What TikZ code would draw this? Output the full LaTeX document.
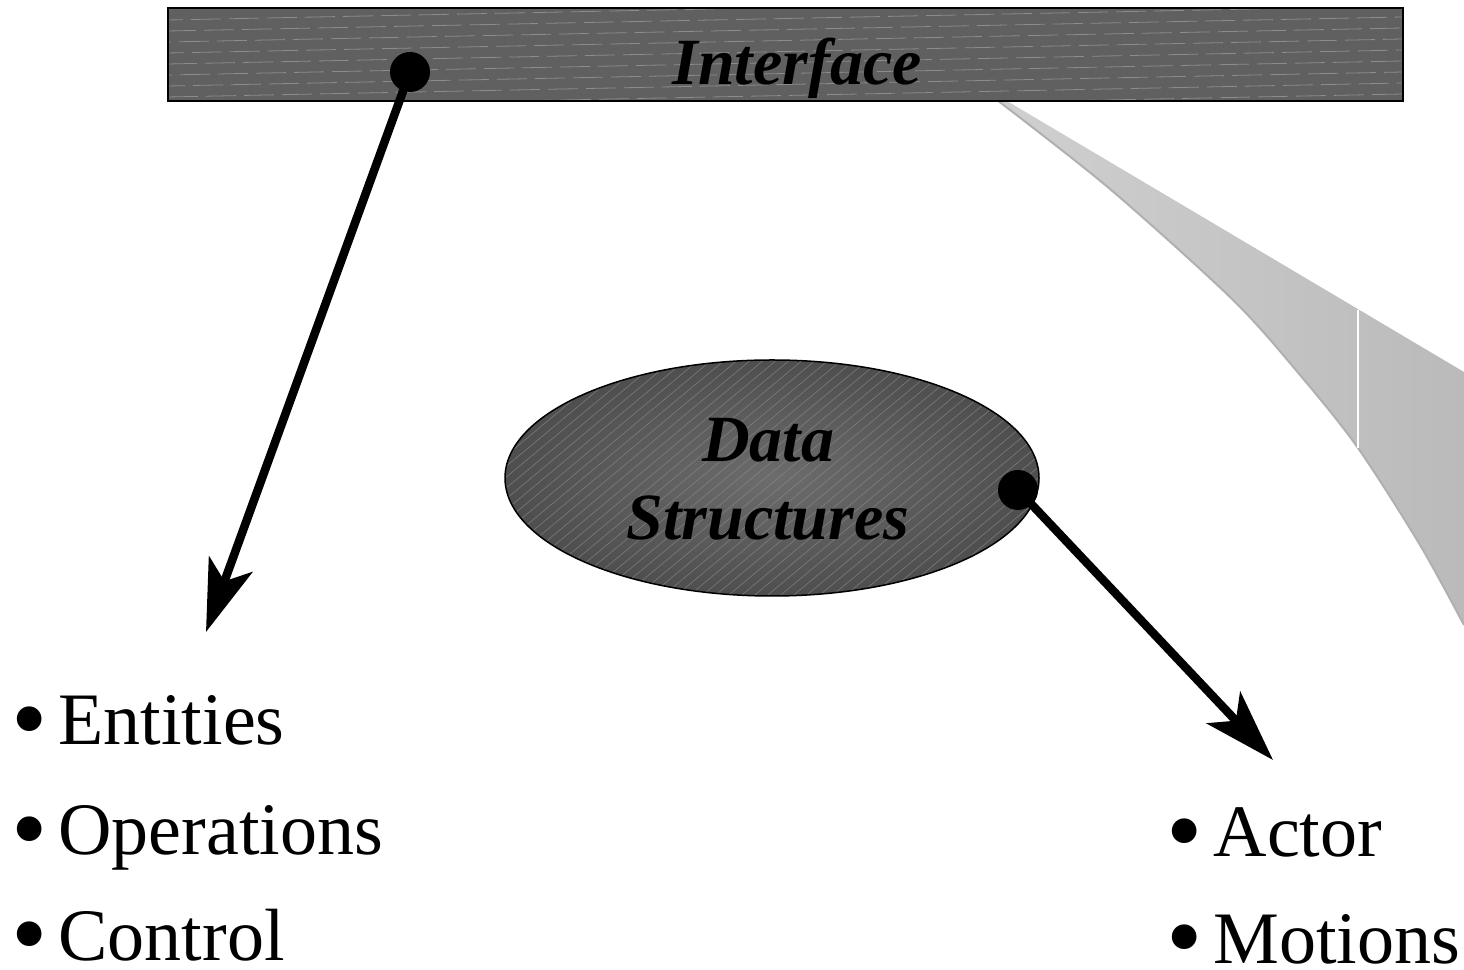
\documentclass[tikz,border=0pt]{standalone}
\usepackage{fontspec}
\usepackage{graphicx}
\setmainfont{Liberation Serif}
\usetikzlibrary{arrows.meta,shapes.geometric}
\definecolor{barfill}{RGB}{96,96,96}
\definecolor{hatch}{RGB}{140,140,140}
\definecolor{wedgeL}{RGB}{208,208,208}
\definecolor{wedgeR}{RGB}{186,186,186}
\definecolor{wedgeEdge}{RGB}{176,176,176}
\definecolor{ellIn}{RGB}{108,108,108}
\definecolor{ellOut}{RGB}{78,78,78}
\newcommand{\mybul}[1]{\raisebox{0pt}[\height][0pt]{\raisebox{-0.12em}{\scalebox{1.4}{\textbullet}}\hspace{0.15em}#1}}
\begin{document}
\begin{tikzpicture}[x=1pt,y=1pt,
  dot/.style={circle,fill=black,inner sep=0,minimum size=40pt},
  conn/.style={line width=8.5pt,-{Stealth[length=72pt,width=46pt,inset=18pt]}},
  bul/.style={anchor=base west,inner sep=0,font=\fontsize{74}{80}\selectfont},
  ttl/.style={font=\fontsize{66}{72}\selectfont\bfseries\itshape,inner sep=0,anchor=base}]
\useasboundingbox (0,0) rectangle (1464,969);
\begin{scope}
\clip (0,0) rectangle (1464,969);
% grey wedge
\shade[left color=wedgeL, right color=wedgeR]
  plot[smooth] coordinates {(997,869) (1110,780) (1233,669) (1300,594) (1358,521) (1420,424) (1464,344)}
  -- (1464,597) -- (1007,868) -- cycle;
\draw[wedgeEdge, line width=2pt]
  plot[smooth] coordinates {(997,869) (1110,780) (1233,669) (1300,594) (1358,521) (1420,424) (1464,344)};
\draw[white, line width=1.5pt] (1358,659) -- (1358,521);
\end{scope}
% Interface bar
\node[fill=barfill, minimum width=1235pt, minimum height=93pt, inner sep=0] (iface) at (785.5,914.5) {};
\begin{scope}
\clip (iface.south west) rectangle (iface.north east);
\foreach \k in {-3,...,9}
  \draw[hatch, line width=0.8pt, dash pattern=on 30pt off 8pt, dash phase=\k*13pt] (168,872+\k*11) -- (1403,872+\k*11+25);
\end{scope}
\draw[line width=2.5pt] (iface.south west) rectangle (iface.north east);
\node[ttl] (itext) at (797,884) {Interface};
% Data Structures ellipse
\node[ellipse, minimum width=534pt, minimum height=236pt, inner sep=0, inner color=ellIn, outer color=ellOut] (ds) at (772,491) {};
\begin{scope}
\clip (ds.center) ellipse (267pt and 118pt);
\foreach \k in {-20,...,60}
  \draw[hatch, line width=0.6pt, opacity=0.7] (400+\k*13,360) -- ++(300,250);
\end{scope}
\draw[line width=1.5pt] (ds.center) ellipse (267pt and 118pt);
\node[ttl] (dtext) at (768,507) {Data};
\node[ttl] (stext) at (768,429) {Structures};
% connectors
\node[dot] (d1) at (410,897) {};
\node[dot] (d2) at (1018,479) {};
\coordinate (t1) at (206,337);
\coordinate (t2) at (1273,209);
\draw[conn] (d1.center) -- (t1);
\draw[conn] (d2.center) -- (t2);
% bullet lists
\node[bul] (b1) at (11,224) {\mybul{Entities}};
\node[bul] (b2) at (11,114) {\mybul{Operations}};
\node[bul] (b3) at (11,9) {\mybul{Control}};
\node[bul] (b4) at (1166,112) {\mybul{Actor}};
\node[bul] (b5) at (1166,6) {\mybul{Motions}};
\end{tikzpicture}
\end{document}
